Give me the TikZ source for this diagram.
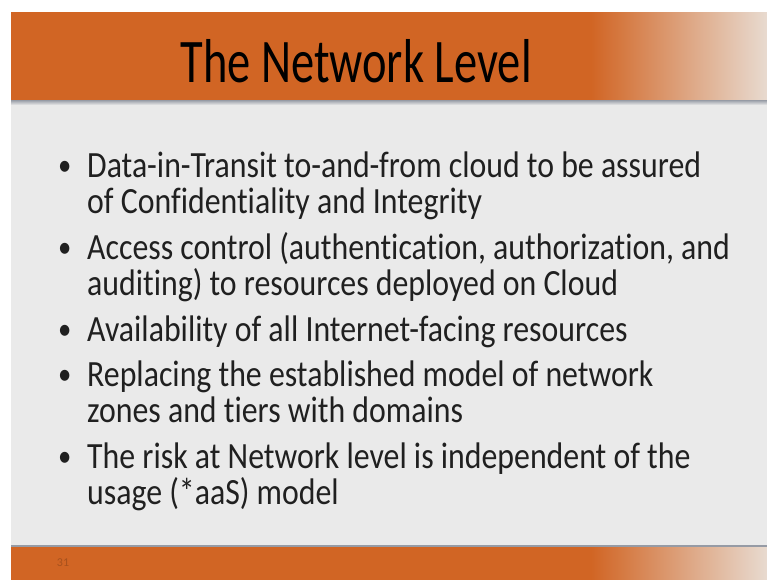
\documentclass[tikz,border=0pt]{standalone}
\usepackage{fontspec}
\setmainfont{Carlito}[Ligatures=NoCommon]
\newfontfamily\titlefont{Carlito}[FakeStretch=0.75, Ligatures=NoCommon]
\newfontfamily\bodyfont{Carlito}[FakeStretch=0.86, Ligatures=NoCommon]
\usepackage{tikz}
\usetikzlibrary{positioning}

\definecolor{slideorange}{RGB}{209,101,36}
\definecolor{fadeorange}{RGB}{233,224,216}
\definecolor{slidegray}{RGB}{234,234,234}
\definecolor{shadowgray}{RGB}{150,155,165}
\definecolor{slidetext}{RGB}{32,32,32}

\begin{document}
\begin{tikzpicture}[
    x=1pt, y=-1pt,
    titletext/.style={font=\titlefont\fontsize{62}{62}\selectfont, text=black, inner sep=0pt, anchor=base},
    itemtext/.style={font=\bodyfont\fontsize{37}{36}\selectfont, text=slidetext, inner sep=0pt, anchor=base west, align=left},
    bulletmark/.style={font=\bodyfont\fontsize{31}{31}\selectfont, text=slidetext, inner sep=0pt, anchor=base west}
]
\useasboundingbox (0,0) rectangle (767,579);
\fill[white] (0,0) rectangle (767,579);
% header band
\fill[slidegray] (11,101) rectangle (775,546);
\fill[slideorange] (11,12) rectangle (592,100);
\shade[left color=slideorange, right color=fadeorange] (591,12) rectangle (775,100);
\shade[top color=shadowgray, bottom color=slidegray] (11,100) rectangle (775,105);
% footer band
\fill[shadowgray] (11,545) rectangle (775,547);
\fill[slideorange] (11,547) rectangle (592,590);
\shade[left color=slideorange, right color=fadeorange] (591,547) rectangle (775,590);

\node[titletext] (title) at (356,82) {The Network Level};

% base anchor of a two-line item sits on its last line
\node[bulletmark] (b1) at (58,175) {•};
\node[itemtext] (i1) at (87,213) {Data-in-Transit to-and-from cloud to be assured\\of Confidentiality and Integrity};
\node[bulletmark] (b2) at (58,257) {•};
\node[itemtext] (i2) at (87,295) {Access control (authentication, authorization, and\\auditing) to resources deployed on Cloud};
\node[bulletmark] (b3) at (58,339) {•};
\node[itemtext] (i3) at (87,341) {Availability of all Internet-facing resources};
\node[bulletmark] (b4) at (58,384) {•};
\node[itemtext] (i4) at (87,422) {Replacing the established model of network\\zones and tiers with domains};
\node[bulletmark] (b5) at (58,466) {•};
\node[itemtext] (i5) at (87,504) {The risk at Network level is independent of the\\usage (*aaS) model};

\node[font=\fontsize{12}{12}\selectfont, text=slideorange!80!black, inner sep=0pt] (pagenum) at (63,563) {31};
\end{tikzpicture}
\end{document}
